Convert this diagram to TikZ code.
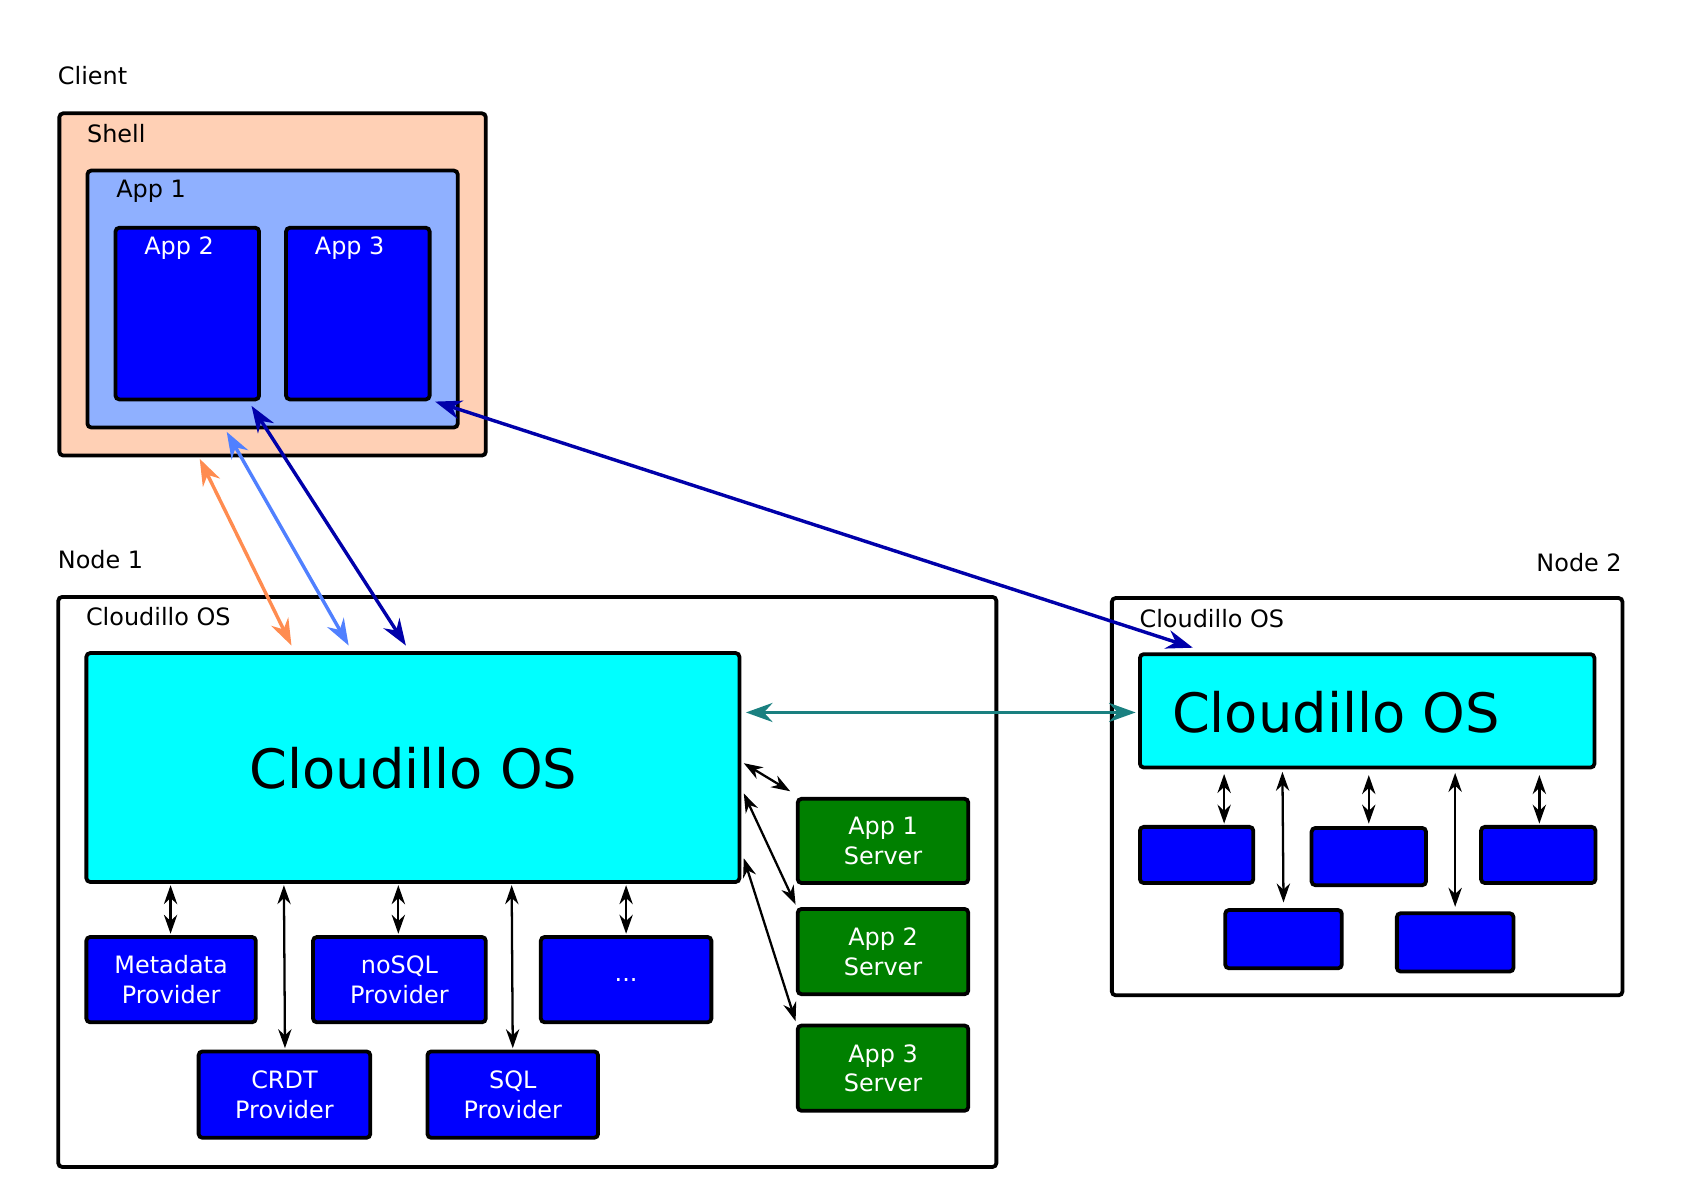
\documentclass[tikz,border=0pt]{standalone}
\usepackage{fontspec}
\setmainfont{DejaVu Sans}
\usetikzlibrary{arrows.meta}
\definecolor{peach}{HTML}{FFD0B5}
\definecolor{lblue}{HTML}{8FB0FF}
\definecolor{dgreen}{HTML}{008000}
\definecolor{teal2}{HTML}{1A8080}
\definecolor{orng}{HTML}{FF8C50}
\definecolor{mblue}{HTML}{5080FF}
\definecolor{dblue}{HTML}{0000AA}
\definecolor{cyn}{HTML}{00FFFF}
\definecolor{blu}{HTML}{0000FF}
\begin{document}
\begin{tikzpicture}[x=0.01cm,y=-0.01cm,
 box/.style={draw=black,line width=1pt,rounded corners=1pt},
 bl/.style={box,fill=blu},
 gr/.style={box,fill=dgreen},
 cy/.style={box,fill=cyn},
 lbl/.style={anchor=west,inner sep=0pt,font=\fontsize{6.3}{7}\selectfont},
 wt/.style={text=white,align=center,font=\fontsize{6.3}{7.8}\selectfont},
 ar/.style={{Stealth[length=5pt,width=3.5pt]}-{Stealth[length=5pt,width=3.5pt]},line width=0.6pt},
 car/.style={{Stealth[length=7pt,width=5pt]}-{Stealth[length=7pt,width=5pt]},line width=0.9pt}]
\useasboundingbox (0,0) rectangle (1560,1103);
% Client
\node[lbl] (client) at (53,70) {Client};
\draw[box,fill=peach] (55,105) rectangle (450,422);
\node[lbl] (shell) at (80,124) {Shell};
\draw[box,fill=lblue] (81,158) rectangle (424,396);
\node[lbl] (app1) at (107,177) {App 1};
\draw[bl] (107,211) rectangle (240,370);
\node[lbl,text=white] (app2) at (133,230) {App 2};
\draw[bl] (265,211) rectangle (398,370);
\node[lbl,text=white] (app3) at (291,230) {App 3};
% Node 1
\node[lbl] (n1) at (53,518) {Node 1};
\draw[box] (54,553) rectangle (923,1081);
\node[lbl] (os1l) at (79,571) {Cloudillo OS};
\draw[cy] (80,605) rectangle (685,817);
\node[font=\fontsize{14.3}{16}\selectfont] (os1) at (383,712) {Cloudillo OS};
\draw[bl] (80,868) rectangle (237,947) node[midway,wt] (meta) {Metadata\\Provider};
\draw[bl] (290,868) rectangle (450,947) node[midway,wt] (nosql) {noSQL\\Provider};
\draw[bl] (501,868) rectangle (659,947) node[midway,wt] (dots) {...};
\draw[bl] (184,974) rectangle (343,1054) node[midway,wt] (crdt) {CRDT\\Provider};
\draw[bl] (396,974) rectangle (554,1054) node[midway,wt] (sql) {SQL\\Provider};
\draw[ar] (158,820) -- (158,865);
\draw[ar] (263,820) -- (264,971);
\draw[ar] (369,820) -- (369,865);
\draw[ar] (474,820) -- (475,971);
\draw[ar] (580,820) -- (580,865);
\draw[gr] (739,740) rectangle (897,818) node[midway,wt] (s1) {App 1\\Server};
\draw[gr] (739,842) rectangle (897,921) node[midway,wt] (s2) {App 2\\Server};
\draw[gr] (739,950) rectangle (897,1029) node[midway,wt] (s3) {App 3\\Server};
\draw[ar] (689,707) -- (732,733);
\draw[ar] (689,735) -- (737,838);
\draw[ar] (689,795) -- (737,946);
% Node 2
\node[anchor=east,inner sep=0pt,font=\fontsize{6.3}{7}\selectfont] (n2) at (1503,521) {Node 2};
\draw[box] (1030,554) rectangle (1503,922);
\node[lbl] (os2l) at (1055,573) {Cloudillo OS};
\draw[cy] (1056,606) rectangle (1477,711);
\node[anchor=west,inner sep=0pt,font=\fontsize{14.3}{16}\selectfont] (os2) at (1085,660) {Cloudillo OS};
\draw[bl] (1056,766) rectangle (1161,818);
\draw[bl] (1215,767) rectangle (1321,820);
\draw[bl] (1372,766) rectangle (1478,818);
\draw[bl] (1135,843) rectangle (1243,897);
\draw[bl] (1294,846) rectangle (1402,900);
\draw[ar] (1134,717) -- (1134,763);
\draw[ar] (1188,715) -- (1189,836);
\draw[ar] (1268,718) -- (1268,763);
\draw[ar] (1348,716) -- (1348,840);
\draw[ar] (1426,718) -- (1426,763);
% connectors
\draw[car,teal2] (691,660) -- (1052,660);
\draw[car,orng] (185,425) -- (270,598);
\draw[car,mblue] (210,400) -- (323,598);
\draw[car,dblue] (233,376) -- (376,598);
\draw[car,dblue] (403,372) -- (1105,600);
\end{tikzpicture}
\end{document}
